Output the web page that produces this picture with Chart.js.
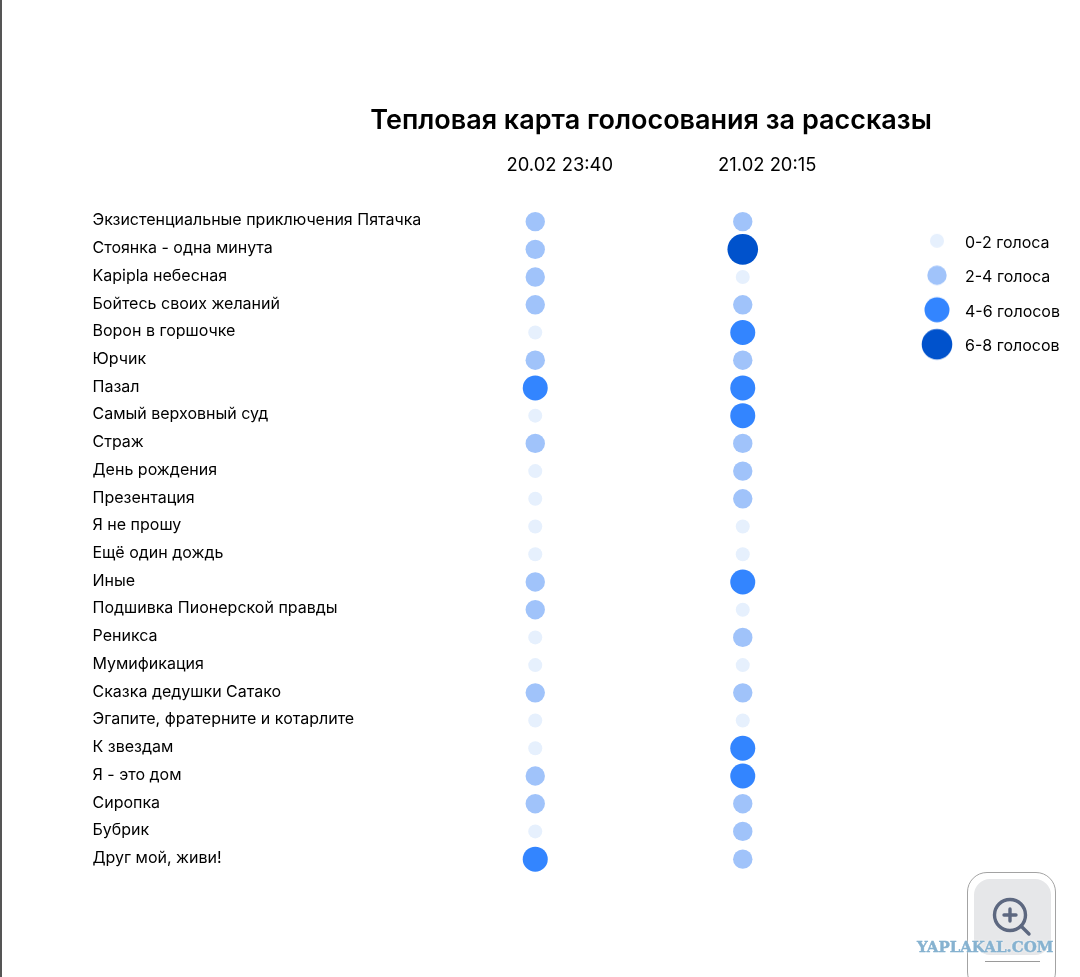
<!DOCTYPE html>
<html lang="ru">
<head>
<meta charset="utf-8">
<title>Тепловая карта голосования за рассказы</title>
<script src="https://cdn.jsdelivr.net/npm/chart.js@4"></script>
<style>
html,body{margin:0;padding:0;background:#fff;overflow:hidden;width:1080px;height:977px}
#wrap{position:relative;width:1080px;height:977px}
#edge{position:absolute;left:0;top:0;width:1.5px;height:977px;background:#555}
#widget{position:absolute;left:967px;top:872px;width:89px;height:120px;box-sizing:border-box;border:1px solid #a3a3a3;border-radius:20px}
#inner{position:absolute;left:974px;top:879px;width:77px;height:76px;background:#e6e7e9;border-radius:16px}
#rule{position:absolute;left:985px;top:961px;width:55px;height:1px;background:#9a9a9a}
#zoom{position:absolute;left:989px;top:895px}
#mark{position:absolute;left:917px;top:938px;font:bold 15px "DejaVu Serif";color:#86b2d0;-webkit-text-stroke:.4px #86b2d0;text-shadow:0 0 3px #fff;white-space:nowrap}
</style>
</head>
<body>
<div id="wrap">
<canvas id="c" width="1080" height="977" style="position:absolute;left:0;top:0;width:1080px;height:977px"></canvas>
<div id="edge"></div>
<div id="widget"></div><div id="inner"></div><div id="rule"></div>
<svg id="zoom" width="44" height="44" viewBox="0 0 44 44" fill="none" stroke="#5d6880" stroke-width="3.4" stroke-linecap="round"><circle cx="21" cy="20" r="15.5"/><path d="M32 31l8 8M21 14v12M15 20h12"/></svg>
<div id="mark">YAPLAKAL.COM</div>
</div>
<script>
const stories = ["Экзистенциальные приключения Пятачка","Стоянка - одна минута","Kapipla небесная","Бойтесь своих желаний","Ворон в горшочке","Юрчик","Пазал","Самый верховный суд","Страж","День рождения","Презентация","Я не прошу","Ещё один дождь","Иные","Подшивка Пионерской правды","Реникса","Мумификация","Сказка дедушки Сатако","Эгапите, фратерните и котарлите","К звездам","Я - это дом","Сиропка","Бубрик","Друг мой, живи!"];
const times = ["20.02 23:40","21.02 20:15"];
const firstVote  = [1,1,1,1,0,1,2,0,1,0,0,0,0,1,1,0,0,1,0,0,1,1,0,2];
const secondVote = [1,3,0,1,2,1,2,2,1,1,1,0,0,2,0,1,0,1,0,2,2,1,1,1];
const binLabels = ["0-2 голоса","2-4 голоса","4-6 голосов","6-8 голосов"];
const binColors = ["#e6f0fd","#a0c3fa","#3385ff","#0052cc"];
const binRadii = [7,9.7,12.5,15.3];

const FONT = "Inter";
const points = [];
[firstVote, secondVote].forEach((col, c) => col.forEach((bin, i) => {
  points.push({x: times[c], y: stories[i], r: binRadii[bin], bin});
}));

function swatch(bin){
  const s = document.createElement("canvas"); s.width = 38; s.height = 38;
  const g = s.getContext("2d"); g.fillStyle = binColors[bin];
  g.beginPath(); g.arc(19,17,binRadii[bin],0,Math.PI*2); g.fill();
  return s;
}

const placeBoxes = {
  id: "placeBoxes",
  afterLayout(chart){
    const t = chart.titleBlock, w = t.right - t.left;
    t.left = 651 - w/2; t.right = 651 + w/2;
    const l = chart.legend, h = l.bottom - l.top;
    l.left = 917 - 18.5; l.right = 1080; l.top = 216.3; l.bottom = 216.3 + h;
  }
};

new Chart(document.getElementById("c"), {
  type: "bubble",
  data: {datasets: [{
    label: "Голоса",
    data: points,
    backgroundColor: ctx => binColors[ctx.raw ? ctx.raw.bin : 0],
    borderWidth: 0,
    hoverBorderWidth: 0
  }]},
  options: {
    responsive: false,
    animation: false,
    devicePixelRatio: 1,
    layout: {padding: {top: 105, left: 92.5, right: 62, bottom: 104}},
    scales: {
      x: {
        type: "category", labels: times, position: "top", offset: true,
        afterFit(s){ s.height -= 6.7; },
        grid: {display: false}, border: {display: false},
        ticks: {color: "#000", font: {family: FONT, size: 18.4}, padding: 23, labelOffset: 24.5, maxRotation: 0}
      },
      y: {
        type: "category", labels: stories, offset: true, reverse: false,
        afterFit(s){ s.width = 339; },
        grid: {display: false}, border: {display: false},
        ticks: {color: "#000", font: {family: FONT, size: 16}, crossAlign: "far", padding: 7, labelOffset: -1, autoSkip: false}
      }
    },
    plugins: {
      tooltip: {enabled: false},
      title: {display: true, text: "Тепловая карта голосования за рассказы", color: "#000",
        font: {family: FONT, size: 27, weight: "600"}, padding: {top: 0, bottom: 1}},
      legend: {
        display: true, position: "right", align: "start",
        labels: {
          usePointStyle: true, pointStyleWidth: 40, boxHeight: 16, padding: 18.5, color: "#000",
          font: {family: FONT, size: 16},
          generateLabels: () => binLabels.map((text, i) => ({
            text, pointStyle: swatch(i), fillStyle: binColors[i], strokeStyle: "transparent", lineWidth: 0, hidden: false, fontColor: "#000"
          }))
        }
      }
    }
  },
  plugins: [placeBoxes]
});
</script>
</body>
</html>
